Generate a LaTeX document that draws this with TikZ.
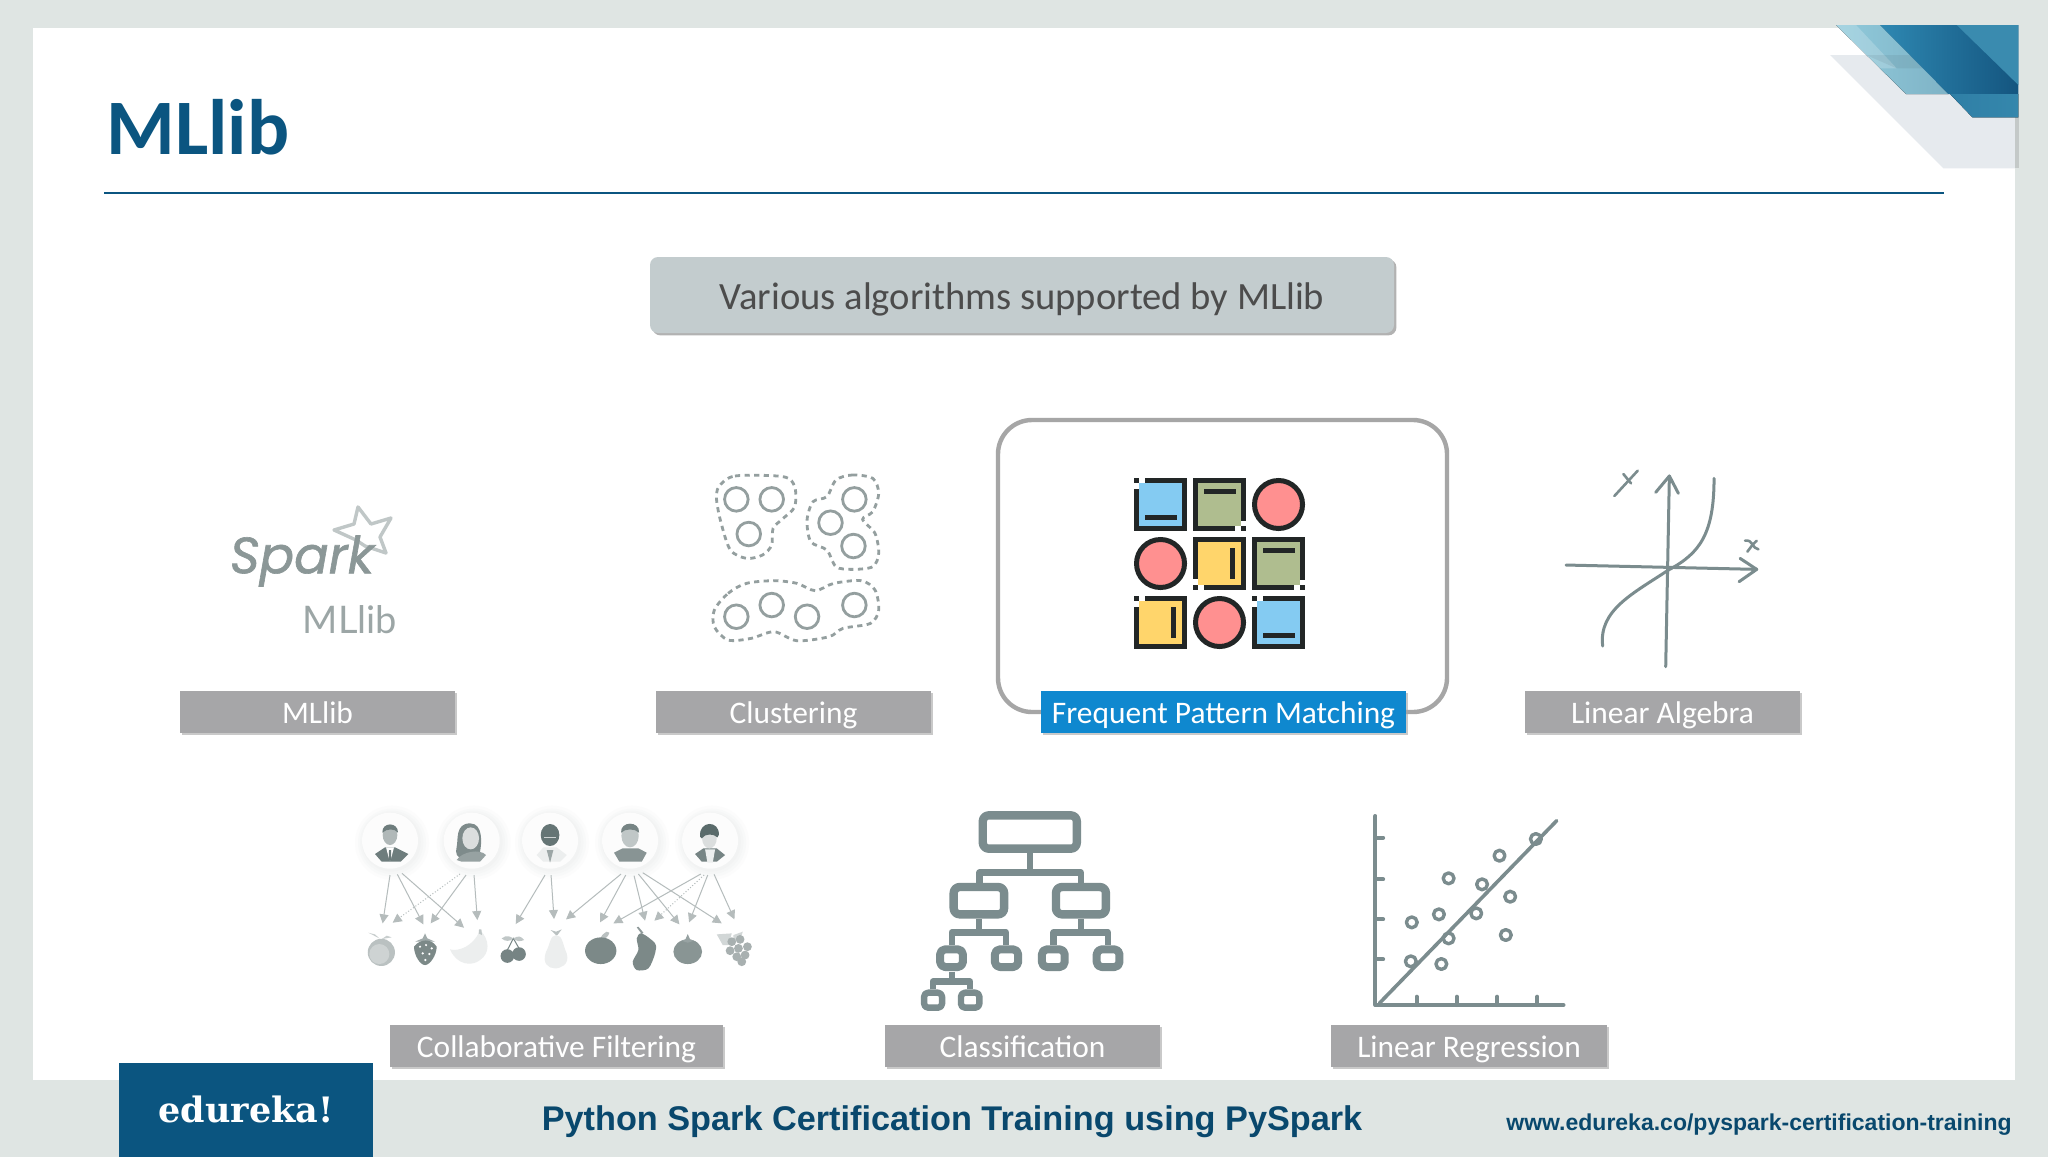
\documentclass[tikz,border=0pt]{standalone}
\usepackage{fontspec}
\setmainfont{Carlito}
\newfontfamily\arialf{Liberation Sans}
\newfontfamily\slabf{DejaVu Serif}
\newfontfamily\sparkf[FakeBold=1.2]{Poppins}
\newfontfamily\latof{Lato}
\usetikzlibrary{arrows.meta,shadows}
\definecolor{bgc}{HTML}{DFE5E3}
\definecolor{navy}{HTML}{0B5580}
\definecolor{labc}{HTML}{A6A6A8}
\definecolor{inkd}{HTML}{222626}
\definecolor{icon}{HTML}{7B8C8E}
\definecolor{ink}{HTML}{5A6B6B}
\definecolor{tblue}{HTML}{84CBF2}
\definecolor{tgreen}{HTML}{AFBD8F}
\definecolor{tred}{HTML}{FF9090}
\definecolor{tyel}{HTML}{FFD56B}
\definecolor{fdark}{HTML}{7C8988}
\definecolor{flight}{HTML}{ECEEEE}
\tikzset{
  lab/.style={fill=labc,text=white,font=\fontsize{15.7}{18}\selectfont,minimum height=21pt,inner sep=0pt,
    text height=12pt,text depth=.5pt,
    drop shadow={shadow xshift=.8pt,shadow yshift=-.8pt,fill=black!35,opacity=.6}},
  fparrow/.style={draw=ink!45,line width=.5pt,-{Triangle[length=4.5pt,width=4.5pt]}},
  fpdot/.style={fparrow,densely dotted},
}
\def\gapTL{\fill[white] (5,0) rectangle (10.6,5); \fill[white] (0,5) rectangle (5,10.6);}
\def\gapBR{\fill[white] (42.3,48) rectangle (47.7,53); \fill[white] (48,42.7) rectangle (53,47.7);}
\def\gapBL{\fill[white] (5,48) rectangle (10.6,53); \fill[white] (0,42.3) rectangle (5,47.7);}
\def\barB{\fill[inkd] (10.6,37.3) rectangle (42.6,42.3);}
\def\barT{\fill[inkd] (10.6,10.6) rectangle (42.6,15.6);}
\def\barR{\fill[inkd] (37,10.6) rectangle (42,42);}
\newcommand{\tile}[4]{\begin{scope}[shift={(#1,#2)}]
  \fill[inkd] (0,0) rectangle (53,53);
  \fill[#3] (5,5) rectangle (48,48);
  #4
\end{scope}}
\newcommand{\tcirc}[2]{\draw[inkd,fill=tred,line width=2.5pt] (#1+26.5,#2+26.5) circle[radius=12pt];}
\newcommand{\halo}[1]{
  \fill[ink!2] (#1+6,158) circle[radius=18.5pt];
  \fill[ink!4] (#1+6,158) circle[radius=17pt];
  \fill[ink!6] (#1+5,157) circle[radius=15.8pt];
  \fill[ink!8] (#1+4,156) circle[radius=14.7pt];
  \fill[white!98!ink] (#1,152) circle[radius=14pt];
}
\begin{document}
\begin{tikzpicture}[x=0.5pt,y=-0.5pt]
\useasboundingbox (0,0) rectangle (2048,1157);
\fill[bgc] (0,0) rectangle (2048,1157);
\fill[white] (33,28) rectangle (2015,1080);

% corner decoration
\begin{scope}[shift={(1780,0)},x=0.1667pt,y=-0.1667pt]
  \definecolor{cpale}{HTML}{E6EAEE}
  \definecolor{clighta}{HTML}{90CADB}
  \definecolor{clightb}{HTML}{7FB3C6}
  \definecolor{cdarka}{HTML}{2E88B2}
  \definecolor{cdarkb}{HTML}{14557F}
  \definecolor{ctri}{HTML}{3A8BAF}
  \definecolor{cbota}{HTML}{2F7FA6}
  \definecolor{cbotb}{HTML}{3587AC}
  \fill[cpale] (150,165) -- (490,505) -- (705,505) -- (705,165) -- cycle;
  \fill[bgc!88!black] (705,352) rectangle (716,505);
  \fill[left color=clighta,right color=clightb] (168,75) -- (300,75) -- (505,282) -- (378,282) -- cycle;
  \fill[white,opacity=.2] (168,75) -- (228,75) -- (350,205) -- (295,205) -- cycle;
  \fill[black,opacity=.06] (258,165) -- (390,165) -- (430,205) -- (350,205) -- cycle;
  \shade[left color=cdarka,right color=cdarkb] (300,75) -- (715,75) -- (715,282) -- (505,282) -- cycle;
  \fill[ctri] (530,75) -- (715,75) -- (715,255) -- cycle;
  \fill[left color=cbota,right color=cbotb] (510,282) -- (715,282) -- (715,352) -- (577,352) -- cycle;
\end{scope}

% title
\node[anchor=west,inner sep=0pt,text=navy,font=\fontsize{39.3}{44}\selectfont\bfseries] (title) at (106,127) {MLlib};
\draw[navy,line width=.8pt] (104,193) -- (1944,193);

% header box
\node[fill={rgb,255:red,195;green,204;blue,206},rounded corners=4pt,minimum width=372pt,minimum height=38pt,inner sep=0pt,
  text=black!70,font=\fontsize{19.3}{22}\selectfont,text height=16pt,text depth=1.5pt,
  drop shadow={shadow xshift=1.2pt,shadow yshift=-1.2pt,fill=black!50,opacity=.6}] (head) at (1022,295) {Various algorithms supported by MLlib};

% spark logo
\draw[ink!38,line width=1.7pt,line join=round] (358,507) -- (371,524) -- (391,518) -- (380,537) -- (386,553) -- (365,546) -- (356,540) -- (334,530) -- (354,524) -- cycle;
\node[anchor=center,inner sep=0pt,text=ink!70,font=\sparkf\itshape\fontsize{25.5}{30}\selectfont] (spark) at (302,561) {Spark};
\node[anchor=center,inner sep=0pt,text=ink!60,font=\latof\fontsize{19}{22}\selectfont] (spml) at (350,620) {MLlib};

% clustering
\begin{scope}[shift={(200,450)},x=0.2296pt,y=-0.1667pt]
  \foreach \p in {(1168,148),(1245,148),(1195,252),(1425,148),(1373,218),(1423,288),(1168,500),(1245,465),(1322,500),(1425,465)}
    \draw[ink!65,line width=1.4pt] \p circle[radius=5.9pt];
  \tikzset{blob/.style={draw=ink!65,line width=1.4pt,dash pattern=on 2.6pt off 2.2pt}}
  \draw[blob] plot[smooth cycle] coordinates {(1130,110)(1165,78)(1270,80)(1295,110)(1295,170)(1270,205)(1248,235)(1245,285)(1225,315)(1190,325)(1155,300)(1135,220)(1125,150)};
  \draw[blob] plot[smooth cycle] coordinates {(1385,90)(1420,75)(1465,85)(1478,130)(1465,185)(1443,208)(1470,250)(1478,310)(1465,350)(1420,358)(1385,350)(1365,300)(1330,275)(1322,210)(1335,155)(1365,140)};
  \draw[blob] plot[smooth cycle] coordinates {(1120,480)(1150,430)(1190,400)(1250,392)(1300,400)(1340,422)(1380,400)(1440,392)(1470,420)(1478,480)(1460,520)(1400,535)(1370,560)(1300,572)(1250,545)(1200,565)(1150,570)(1120,530)};
\end{scope}

% highlight frame
\draw[black!35,line width=2.2pt,rounded corners=17pt,fill=white] (998,420) rectangle (1447,712);
\tile{1134}{478}{tblue}{\gapTL\barB}
\tile{1193}{478}{tgreen}{\gapBR\barT}
\tcirc{1252}{478}
\tcirc{1134}{537}
\tile{1193}{537}{tyel}{\gapBL\barR}
\tile{1252}{537}{tgreen}{\gapBR\barT}
\tile{1134}{596}{tyel}{\gapTL\barR}
\tcirc{1193}{596}
\tile{1252}{596}{tblue}{\gapTL\barB}

% linear algebra
\begin{scope}[shift={(1530,450)},x=0.1667pt,y=-0.1667pt,line cap=round]
  \tikzset{la/.style={draw=icon,line width=1.5pt,line join=round}}
  \draw[la] (108,345) -- (680,358);
  \draw[la] (630,325) -- (680,358) -- (627,395);
  \draw[la] (407,650) -- (418,78);
  \draw[la] (377,127) -- (418,78) -- (445,130);
  \draw[la] (218,588) .. controls (205,480) and (310,430) .. (415,360) .. controls (510,310) and (552,250) .. (552,85);
  \draw[la,line width=1.3pt] (253,138) -- (323,62);
  \draw[la,line width=1.3pt] (280,72) -- (303,100);
  \draw[la,line width=1.3pt] (645,272) .. controls (670,268) and (665,295) .. (685,298);
  \draw[la,line width=1.3pt] (652,305) .. controls (660,295) and (665,285) .. (680,272);
\end{scope}

% collaborative filtering
\begin{scope}[shift={(340,790)},x=0.1667pt,y=-0.1667pt]
  \halo{150}\halo{395}\halo{630}\halo{870}\halo{1110}
  % person 1
  \fill[ink!88] (105,192) -- (135,172) -- (165,172) -- (205,192) -- (182,215) -- (125,215) -- cycle;
  \fill[white] (138,172) -- (162,172) -- (152,210) -- (148,210) -- cycle;
  \fill[ink!90] (147,180) -- (153,180) -- (154,210) -- (146,210) -- cycle;
  \fill[ink!48] (150,135) ellipse [x radius=22,y radius=30];
  \fill[ink!88] (127,128) .. controls (125,95) and (175,95) .. (174,128) .. controls (165,115) and (140,115) .. (127,128);
  % person 2
  \fill[ink!78] (390,100) .. controls (345,100) and (355,150) .. (350,170) .. controls (345,190) and (350,205) .. (370,205) -- (420,185) .. controls (425,160) and (430,100) .. (390,100);
  \fill[ink!63] (350,210) .. controls (365,185) and (420,175) .. (438,195) -- (420,215) -- (365,215) -- cycle;
  \fill[ink!22] (392,145) ellipse [x radius=25,y radius=33];
  % person 3
  \fill[flight] (590,195) -- (610,172) -- (650,172) -- (680,195) -- (660,215) -- (610,215) -- cycle;
  \fill[ink!60] (620,180) -- (640,180) -- (630,218) -- cycle;
  \fill[ink!93] (630,135) ellipse [x radius=28,y radius=33];
  \draw[ink!30,line width=.4pt] (612,143) -- (648,143);
  % person 4
  \fill[ink!72] (822,188) -- (848,175) -- (895,175) -- (920,188) -- (905,215) -- (838,215) -- cycle;
  \fill[ink!38] (870,137) ellipse [x radius=26,y radius=35];
  \fill[ink!83] (843,128) .. controls (840,92) and (900,92) .. (897,128) .. controls (885,115) and (855,115) .. (843,128);
  % person 5
  \fill[ink!83] (1065,192) -- (1090,175) -- (1130,175) -- (1155,195) -- (1130,215) -- (1085,215) -- cycle;
  \fill[flight] (1095,178) -- (1125,178) -- (1118,218) -- (1102,218) -- cycle;
  \fill[ink!22] (1108,145) ellipse [x radius=22,y radius=30];
  \fill[ink] (1080,140) .. controls (1075,90) and (1140,90) .. (1136,135) -- (1132,142) .. controls (1120,130) and (1095,130) .. (1085,145) -- cycle;
  % arrows
  \foreach \a/\b/\c/\d in {150/255/128/400,172/253/250/403,186/250/372/413,378/255/272/400,402/255/412/390,615/255/527/402,633/255/642/387,843/252/678/388,857/255/780/397,882/257/915/392,895/252/1018/403,908/248/1145/400,1082/252/820/400,1103/255/1047/397,1122/253/1183/388}
    \draw[fparrow] (\a,\b) -- (\c,\d);
  \draw[fpdot] (360,252) -- (158,398);
  \draw[fpdot] (1092,255) -- (943,392);
  % fruit
  \fill[ink!33] (105,433) -- (85,428) -- (118,445) -- cycle;
  \fill[ink!33] (140,437) -- (155,442) -- (125,447) -- cycle;
  \fill[ink!42] (124,487) circle[radius=6.8pt];
  \fill[ink!30] (118,492) circle[radius=5pt];
  \fill[ink!57] (255,430) -- (262,445) -- (285,455) -- (225,455) -- (248,445) -- cycle;
  \fill[fdark] (222,470) .. controls (240,445) and (275,445) .. (290,470) .. controls (290,495) and (270,525) .. (255,525) .. controls (240,525) and (222,495) .. (222,470);
  \foreach \q in {(240,470),(258,465),(275,475),(248,490),(268,492),(256,510)} \fill[white] \q circle[radius=.6pt];
  \fill[flight] (330,478) .. controls (355,485) and (400,470) .. (420,420) .. controls (450,450) and (450,490) .. (420,510) .. controls (395,530) and (350,525) .. (330,478);
  \fill[ink!38] (417,418) -- (424,418) -- (426,435) -- (416,430) -- cycle;
  \draw[ink!83,line width=.5pt] (502,480) -- (520,445) -- (537,475);
  \fill[ink!38] (520,445) .. controls (495,430) and (490,445) .. (485,445) .. controls (495,455) and (510,455) .. (520,445);
  \fill[ink!38] (520,445) .. controls (535,435) and (545,440) .. (552,450) .. controls (540,455) and (530,455) .. (520,445);
  \fill[ink!83] (502,498) circle[radius=3.4pt];
  \fill[ink!83] (537,492) circle[radius=3.4pt];
  \fill[flight] (648,435) .. controls (668,435) and (668,465) .. (680,490) .. controls (690,525) and (660,535) .. (645,535) .. controls (625,535) and (605,520) .. (618,485) .. controls (630,465) and (630,435) .. (648,435);
  \fill[ink!42] (648,435) -- (632,420) -- (648,425) -- (665,418) -- (652,435) -- cycle;
  \fill[ink!42] (800,425) .. controls (790,430) and (780,440) .. (782,448) .. controls (795,448) and (805,440) .. (808,428) -- cycle;
  \fill[fdark] (782,482) ellipse [x radius=47,y radius=40];
  \fill[ink!68] (895,410) -- (910,428) -- (905,432) -- (890,412) -- cycle;
  \fill[fdark] plot[smooth cycle] coordinates {(905,430)(945,460)(945,490)(925,535)(890,540)(878,515)(895,480)(890,445)};
  \fill[fdark!90!white] (1043,485) ellipse [x radius=43,y radius=37];
  \fill[ink!63] (1043,432) -- (1050,448) -- (1062,452) -- (1043,458) -- (1024,452) -- (1036,448) -- cycle;
  \fill[ink!27] (1130,433) -- (1175,430) -- (1165,465) -- (1148,465) -- cycle;
  \fill[ink!27] (1180,435) -- (1208,425) -- (1200,450) -- (1180,450) -- cycle;
  \foreach \q in {(1175,455),(1200,448),(1222,470),(1195,475),(1170,482),(1215,495),(1190,500),(1205,515)} \fill[ink!53] \q circle[radius=2.2pt];
\end{scope}

% classification and regression
\begin{scope}[shift={(880,790)},x=0.24237pt,y=-0.16667pt,line join=round]
  \tikzset{cl/.style={draw=icon,line width=4.2pt,rounded corners=3pt},
           cs/.style={draw=icon,line width=4pt,rounded corners=2.5pt},
           ct/.style={draw=icon,line width=3.2pt,rounded corners=2pt},
           cc/.style={draw=icon,line width=3.2pt}}
  \draw[cl] (212,76) rectangle (406,176);
  \draw[cc] (309,190) -- (309,248);
  \draw[cc] (205,278) -- (205,248) -- (414,248) -- (414,278);
  \draw[cl] (152,291) rectangle (256,373);
  \draw[cl] (363,291) rectangle (466,373);
  \draw[cc] (204,387) -- (204,427);
  \draw[cc] (414,387) -- (414,427);
  \draw[cc] (148,465) -- (148,427) -- (260,427) -- (260,465);
  \draw[cc] (358,465) -- (358,427) -- (470,427) -- (470,465);
  \draw[cs] (124,478) rectangle (171,531);
  \draw[cs] (237,478) rectangle (285,531);
  \draw[cs] (334,478) rectangle (381,531);
  \draw[cs] (447,478) rectangle (494,531);
  \draw[cc] (148,545) -- (148,575);
  \draw[cc] (109,598) -- (109,575) -- (186,575) -- (186,598);
  \draw[ct] (91,608) rectangle (128,653);
  \draw[ct] (167,608) rectangle (205,653);
  % regression
  \tikzset{rg/.style={draw=icon,line width=2pt,line cap=round}}
  \draw[rg] (1022,78) -- (1022,645) -- (1410,645);
  \foreach \t in {143,268,388,508} \draw[rg] (1022,\t) -- (1038,\t);
  \foreach \t in {1107,1190,1273,1356} \draw[rg] (\t,620) -- (\t,645);
  \draw[rg,line width=1.8pt] (1030,640) -- (1396,92);
  \foreach \q in {(1353,147),(1278,197),(1173,265),(1242,283),(1300,320),(1153,373),(1230,370),(1097,397),(1173,445),(1291,435),(1095,514),(1158,522)}
    \draw[draw=icon,line width=1.7pt] \q circle[radius=2.7pt];
\end{scope}

% labels
\node[lab,minimum width=137.5pt] (l1) at (317.5,712) {MLlib};
\node[lab,minimum width=137.5pt] (l2) at (793.5,712) {Clustering};
\node[lab,minimum width=182.5pt,fill={rgb,255:red,15;green,136;blue,207}] (l3) at (1223.5,712) {Frequent Pattern Matching};
\node[lab,minimum width=137.5pt] (l4) at (1662.5,712) {Linear Algebra};
\node[lab,minimum width=166.5pt] (l5) at (556.5,1046) {Collaborative Filtering};
\node[lab,minimum width=137.5pt] (l6) at (1022.5,1046) {Classification};
\node[lab,minimum width=138pt] (l7) at (1469,1046) {Linear Regression};

% footer
\fill[navy] (119,1063) rectangle (373,1157);
\node[inner sep=0pt,text=white,font=\slabf\bfseries\fontsize{17.5}{22}\selectfont] (edu) at (246,1109) {edureka!};
\node[inner sep=0pt,text=navy!85!black,font=\arialf\bfseries\fontsize{17.13}{22}\selectfont] (course) at (952,1122) {Python Spark Certification Training using PySpark};
\node[inner sep=0pt,text=navy!85!black,font=\arialf\bfseries\fontsize{11.5}{15}\selectfont] (url) at (1759,1125) {www.edureka.co/pyspark-certification-training};
\end{tikzpicture}
\end{document}
